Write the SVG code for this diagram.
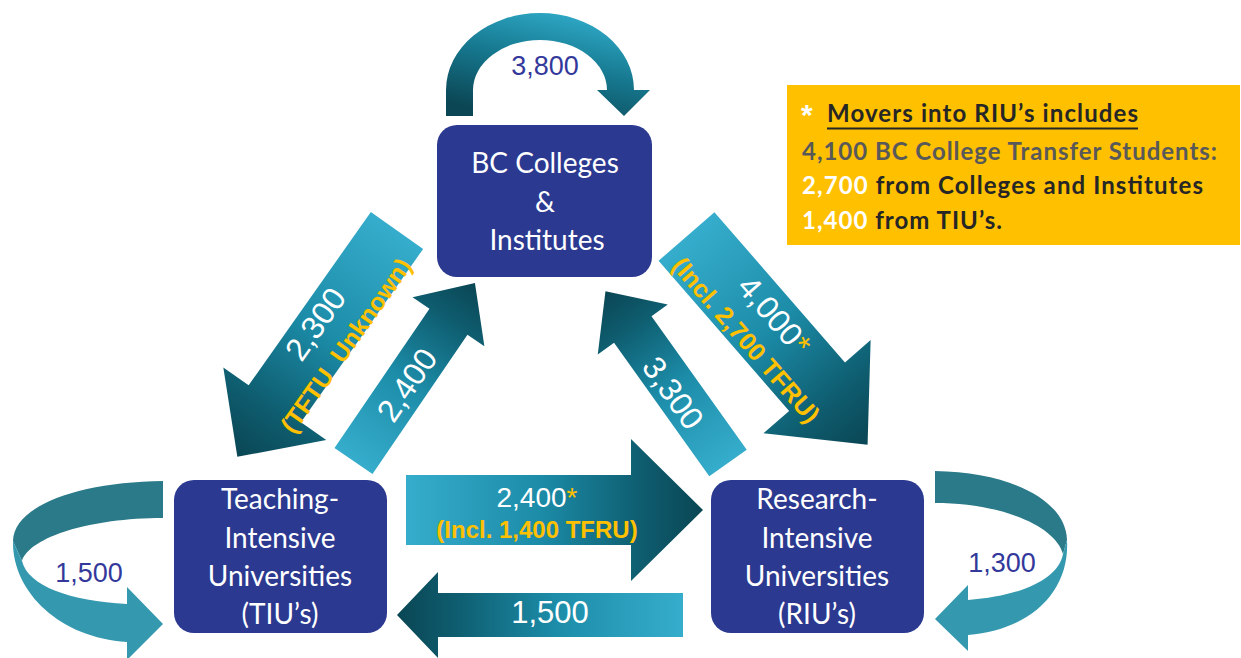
<svg xmlns="http://www.w3.org/2000/svg" width="1241" height="658" viewBox="0 0 1241 658">
  <defs>
    <!-- block arrows are drawn along +x from tail (x=0) to tip, so one gradient serves all -->
    <linearGradient id="flow" x1="0" y1="0" x2="1" y2="0">
      <stop offset="0" stop-color="#36ADCC"/>
      <stop offset="0.45" stop-color="#1C8CA8"/>
      <stop offset="0.8" stop-color="#0E5C6E"/>
      <stop offset="1" stop-color="#0A4654"/>
    </linearGradient>
    <linearGradient id="arc" x1="0.75" y1="0" x2="0.3" y2="1">
      <stop offset="0" stop-color="#31AECD"/>
      <stop offset="0.5" stop-color="#16788F"/>
      <stop offset="1" stop-color="#0B4654"/>
    </linearGradient>
    <style>
      .node { fill: #2B3990; }
      .node-label { font-family: Lato, "Open Sans", sans-serif; font-size: 28px; fill: #FFFFFF; text-anchor: middle; }
      .flow { fill: url(#flow); }
      .loop-back { fill: #2B7A8A; }
      .loop-front { fill: #3499AF; }
      .big { font-family: "Liberation Sans", Arial, sans-serif; fill: #FFFFFF; text-anchor: middle; }
      .note { font-family: "Liberation Sans", Arial, sans-serif; font-weight: bold; fill: #FFC000; text-anchor: middle; white-space: pre; }
      .star { fill: #FFC000; }
      .count { font-family: "Liberation Sans", Arial, sans-serif; font-size: 27px; fill: #33399B; text-anchor: middle; }
      .legend { font-family: Lato, "Open Sans", sans-serif; font-weight: bold; font-size: 24px; }
    </style>
  </defs>

  <!-- flows between sectors -->
  <g id="connectors">
    <!-- college to college loop over the top -->
    <path fill="url(#arc)" d="M446,116 L446,90 A94,77 0 0 1 634,90 L650,90 L624,116 L597,90 L607,90 A67,50 0 0 0 473,90 L473,116 Z"/>
    <text class="count" x="545" y="75" font-size="26">3,800</text>

    <!-- colleges to TIU -->
    <path class="flow" transform="translate(397,230.5) rotate(125.2)" d="M0,-32 L212,-32 L212,-63 L277,0 L212,63 L212,32 L0,32 Z"/>
    <g transform="translate(331,335) rotate(-54.8)">
      <text class="big" y="-8" font-size="32">2,300</text>
      <text class="note" y="27" font-size="25">(TFTU  Unknown)</text>
    </g>

    <!-- TIU to colleges -->
    <path class="flow" transform="translate(353.5,461) rotate(-55.7)" d="M0,-23 L168.5,-23 L168.5,-43.5 L215.5,0 L168.5,43.5 L168.5,23 L0,23 Z"/>
    <text class="big" transform="translate(407,385) rotate(-55.7)" y="11" font-size="32">2,400</text>

    <!-- colleges to RIU -->
    <path class="flow" transform="translate(686.5,236.5) rotate(49)" d="M0,-37 L199,-37 L199,-71 L276,0 L199,71 L199,37 L0,37 Z"/>
    <g transform="translate(760,328) rotate(49)">
      <text class="big" y="-8" font-size="32">4,000<tspan class="star">*</tspan></text>
      <text class="note" y="27" font-size="25">(Incl. 2,700 TFRU)</text>
    </g>

    <!-- RIU to colleges -->
    <path class="flow" transform="translate(728,463) rotate(-125.5)" d="M0,-23 L164,-23 L164,-43 L211,0 L164,43 L164,23 L0,23 Z"/>
    <text class="big" transform="translate(673,393) rotate(54.5)" y="11" font-size="32">3,300</text>

    <!-- TIU to RIU -->
    <path class="flow" transform="translate(406,510)" d="M0,-35 L225,-35 L225,-71 L297,0 L225,71 L225,35 L0,35 Z"/>
    <text class="big" x="537" y="507" font-size="28">2,400<tspan class="star">*</tspan></text>
    <text class="note" x="537" y="538" font-size="24">(Incl. 1,400 TFRU)</text>

    <!-- RIU to TIU -->
    <path class="flow" transform="translate(683,615) rotate(180)" d="M0,-22 L245,-22 L245,-43 L286,0 L245,43 L245,22 L0,22 Z"/>
    <text class="big" x="550" y="623" font-size="31">1,500</text>

    <!-- TIU to TIU loop -->
    <path class="loop-back" d="M163,481 C80,482 14,505 13,541 L22,561 C30,537 90,518 163,518 Z"/>
    <path class="loop-front" d="M13,541 C12,592 60,638 127,642 L127,660 L163,624 L127,587 L127,604 C70,601 28,586 22,561 Z"/>
    <text class="count" x="89" y="582">1,500</text>

    <!-- RIU to RIU loop -->
    <path class="loop-back" d="M935,471 C1010,472 1066,500 1067,540 L1063,554 C1055,525 1000,503 935,503 Z"/>
    <path class="loop-front" d="M1067,540 C1070,592 1030,630 968,635 L968,651 L935,619 L968,585 L968,600 C1020,596 1058,580 1063,554 Z"/>
    <text class="count" x="1002" y="572">1,300</text>
  </g>

  <g id="colleges">
    <rect class="node" x="437" y="125" width="215" height="152" rx="20"/>
    <text class="node-label" x="545" y="173">BC Colleges</text>
    <text class="node-label" x="545" y="212">&amp;</text>
    <text class="node-label" x="547" y="250">Institutes</text>
  </g>

  <g id="tiu">
    <rect class="node" x="174" y="480" width="213" height="153" rx="20"/>
    <text class="node-label" x="280" y="509">Teaching-</text>
    <text class="node-label" x="280" y="548">Intensive</text>
    <text class="node-label" x="280" y="586">Universities</text>
    <text class="node-label" x="280" y="624">(TIU’s)</text>
  </g>

  <g id="riu">
    <rect class="node" x="711" y="480" width="213" height="153" rx="20"/>
    <text class="node-label" x="817" y="509">Research-</text>
    <text class="node-label" x="817" y="548">Intensive</text>
    <text class="node-label" x="817" y="586">Universities</text>
    <text class="node-label" x="817" y="624">(RIU’s)</text>
  </g>

  <g id="note">
    <rect x="787" y="85" width="453" height="160" fill="#FFC000"/>
    <text x="801" y="125" fill="#FFFFFF" font-family="Liberation Sans, Arial, sans-serif" font-weight="bold" font-size="30">*</text>
    <text class="legend" x="827" y="122" fill="#262626" textLength="311">Movers into RIU’s includes</text>
    <line x1="827" y1="128.5" x2="1138" y2="128.5" stroke="#262626" stroke-width="2"/>
    <text class="legend" x="802" y="160" fill="#595959" textLength="415">4,100 BC College Transfer Students:</text>
    <text class="legend" x="802" y="194" fill="#262626" textLength="401"><tspan fill="#FFFFFF">2,700</tspan> from Colleges and Institutes</text>
    <text class="legend" x="802" y="229" fill="#262626" textLength="200"><tspan fill="#FFFFFF">1,400</tspan> from TIU’s.</text>
  </g>
</svg>
